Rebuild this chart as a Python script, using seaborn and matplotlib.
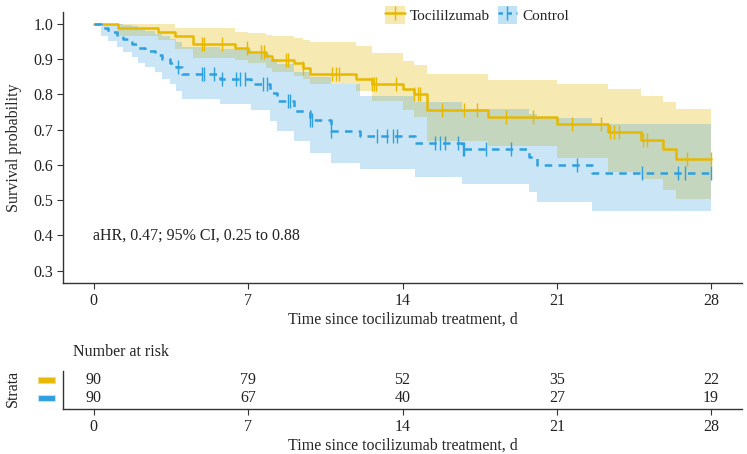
import numpy as np
import pandas as pd
import matplotlib
matplotlib.use("Agg")
import matplotlib.pyplot as plt
import seaborn as sns
from matplotlib.patches import Patch, Rectangle
from matplotlib.lines import Line2D

# ---------------- data ----------------
groups = ["Tocilizumab", "Control"]
legend_labels = ["Tocililzumab", "Control"]
colors = ["#E7B800", "#2E9FDF"]

toci_time = [0, 1.1, 2.9, 3.7, 4.5, 6.4, 7.0, 7.8, 8.1, 9.1, 9.5, 9.8, 11.9, 12.6,
             14.0, 14.5, 15.1, 17.9, 21.0, 23.3, 24.8, 25.8, 26.4]
toci_surv = [1.0, 0.989, 0.976, 0.965, 0.942, 0.931, 0.921, 0.908, 0.897, 0.888, 0.876,
             0.858, 0.845, 0.831, 0.815, 0.80, 0.755, 0.736, 0.715, 0.694, 0.670, 0.644, 0.618]
toci_lower = [1.0, 0.967, 0.955, 0.93, 0.903, 0.898, 0.889, 0.875, 0.865, 0.851, 0.845,
              0.83, 0.809, 0.78, 0.757, 0.735, 0.668, 0.655, 0.62, 0.58, 0.56, 0.53, 0.503]
toci_upper = [1.0, 1.0, 1.0, 0.988, 0.988, 0.976, 0.974, 0.969, 0.965, 0.96, 0.955,
              0.948, 0.936, 0.918, 0.894, 0.884, 0.859, 0.842, 0.83, 0.814, 0.795, 0.779, 0.76]
toci_censor = [4.9, 5.0, 5.8, 6.95, 7.6, 7.7, 8.7, 8.8, 9.5, 10.8, 11.0, 11.1, 12.6, 12.7,
               12.8, 13.7, 14.5, 14.7, 14.8, 15.8, 16.8, 17.4, 18.7, 19.9, 21.7, 23.0,
               23.4, 23.6, 23.8, 24.9, 25.1, 26.9, 28.0]

ctrl_time = [0, 0.32, 0.65, 1.03, 1.33, 1.71, 2.0, 2.3, 2.77, 3.1, 3.45, 3.72, 3.98, 5.7,
             7.15, 8.0, 8.3, 9.1, 9.8, 10.75, 12.07, 14.56, 16.7, 19.75, 20.1, 22.6]
ctrl_surv = [1.0, 0.988, 0.978, 0.967, 0.956, 0.944, 0.933, 0.922, 0.911, 0.9, 0.889, 0.878,
             0.858, 0.843, 0.83, 0.805, 0.78, 0.752, 0.727, 0.697, 0.682, 0.663, 0.645,
             0.623, 0.601, 0.576]
ctrl_lower = [1.0, 0.965, 0.952, 0.935, 0.92, 0.905, 0.89, 0.877, 0.865, 0.845, 0.83, 0.81,
              0.787, 0.773, 0.757, 0.724, 0.696, 0.668, 0.635, 0.605, 0.588, 0.566, 0.545,
              0.522, 0.496, 0.470]
ctrl_upper = [1.0, 1.0, 1.0, 1.0, 0.998, 0.993, 0.985, 0.98, 0.972, 0.965, 0.958, 0.95,
              0.935, 0.928, 0.915, 0.9, 0.885, 0.865, 0.85, 0.83, 0.795, 0.778, 0.76,
              0.745, 0.734, 0.715]
ctrl_censor = [3.83, 4.9, 5.0, 5.44, 5.79, 6.47, 6.65, 6.85, 7.68, 7.84, 8.82, 8.9, 9.8,
               9.88, 10.75, 12.83, 13.28, 13.58, 13.73, 15.47, 15.7, 15.93, 16.5, 16.75,
               16.8, 17.8, 18.9, 21.9, 24.85, 26.5, 26.8, 28.0]

end_time = 28.0
risk_times = [0, 7, 14, 21, 28]
risk_toci = [90, 79, 52, 35, 22]
risk_ctrl = [90, 67, 40, 27, 19]
x_ticks = [0, 7, 14, 21, 28]
y_ticks = [0.3, 0.4, 0.5, 0.6, 0.7, 0.8, 0.9, 1.0]
annotation = "aHR, 0.47; 95% CI, 0.25 to 0.88"
xlabel = "Time since tocilizumab treatment, d"
ylabel = "Survival probability"

# ---------------- build tables ----------------
series = {
    "Tocilizumab": (toci_time, toci_surv, toci_lower, toci_upper, toci_censor),
    "Control": (ctrl_time, ctrl_surv, ctrl_lower, ctrl_upper, ctrl_censor),
}
rows = []
for g, (t, s, lo, up, _) in series.items():
    tt = list(t) + [end_time]
    ss = list(s) + [s[-1]]
    ll = list(lo) + [lo[-1]]
    uu = list(up) + [up[-1]]
    for a, b, c, d in zip(tt, ss, ll, uu):
        rows.append({"group": g, "time": a, "surv": b, "lower": c, "upper": d})
df = pd.DataFrame(rows)

# ---------------- figure ----------------
sns.set_theme(style="white")
plt.rcParams["font.family"] = ["Liberation Serif", "DejaVu Serif"]
plt.rcParams["text.color"] = "#222222"
W, H = 747, 454
fig = plt.figure(figsize=(W / 100, H / 100), dpi=100)
fig.patch.set_facecolor("white")

def fx(px):
    return px / W

def fy(py):
    return 1 - py / H

ax = fig.add_axes([fx(63), fy(283), fx(742) - fx(63), fy(11.6) - fy(283)])
ax.set_facecolor("white")

palette = dict(zip(groups, colors))
band_alpha = {"Tocilizumab": 0.3, "Control": 0.25}
for g in groups:
    sub = df[df.group == g]
    ax.fill_between(sub.time, sub.lower, sub.upper, step="post",
                    color=palette[g], alpha=band_alpha[g], lw=0)

sns.lineplot(data=df, x="time", y="surv", hue="group", style="group",
             hue_order=groups, style_order=groups, palette=palette,
             dashes={"Tocilizumab": "", "Control": (3.0, 2.5)},
             drawstyle="steps-post", lw=1.8, estimator=None, sort=False,
             legend=False, ax=ax)

for g, (t, s, lo, up, cens) in series.items():
    t_arr = np.asarray(t)
    s_arr = np.asarray(s)
    idx = np.searchsorted(t_arr, np.asarray(cens), side="right") - 1
    ax.plot(cens, s_arr[idx], linestyle="none", marker="|", markersize=10,
            markeredgewidth=1.0, color=palette[g])

ax.set_xlim(-1.4, 29.4)
ax.set_ylim(0.265, 1.035)
ax.set_xticks(x_ticks)
ax.set_yticks(y_ticks)
ax.set_yticklabels([f"{v:.1f}" for v in y_ticks])
ax.tick_params(axis="both", which="both", direction="out", length=4, width=0.8,
               color="#333333", labelsize=11.5, labelcolor="#222222", pad=3,
               left=True, bottom=True)
for sp in ["top", "right"]:
    ax.spines[sp].set_visible(False)
for sp in ["left", "bottom"]:
    ax.spines[sp].set_color("#333333")
    ax.spines[sp].set_linewidth(1.0)
ax.set_xlabel(xlabel, fontsize=11.5, labelpad=2)
ax.set_ylabel(ylabel, fontsize=11.5, labelpad=8)
ax.text(-0.05, 0.40, annotation, fontsize=11.5, ha="left", va="center")

# legend
handles = []
for g, c in zip(groups, colors):
    p = Patch(facecolor=c, alpha=0.3, edgecolor="none")
    ln = Line2D([0], [0], color=c, lw=1.8, marker="|", markersize=10,
                markeredgewidth=1.0,
                linestyle="-" if g == "Tocilizumab" else (0, (1.8, 1.8)))
    handles.append((p, ln))
fig.legend(handles, legend_labels, loc="center", bbox_to_anchor=(fx(477), fy(15)),
           ncol=2, frameon=False, fontsize=11, handlelength=1.3, handleheight=1.4,
           columnspacing=0.5, handletextpad=0.3)

# risk table
tab = fig.add_axes([fx(63), fy(409), fx(742) - fx(63), fy(371) - fy(409)])
tab.set_facecolor("white")
tab.set_xlim(-1.4, 29.4)
tab.set_ylim(-0.61, 1.5)
for t, a, b in zip(risk_times, risk_toci, risk_ctrl):
    tab.text(t, 1, str(a), ha="center", va="center", fontsize=11.5)
    tab.text(t, 0, str(b), ha="center", va="center", fontsize=11.5)
tab.set_xticks(x_ticks)
tab.set_yticks([])
tab.tick_params(axis="x", direction="out", length=4, width=0.8, color="#333333",
                labelsize=11.5, labelcolor="#222222", pad=3, bottom=True)
for sp in ["top", "right"]:
    tab.spines[sp].set_visible(False)
for sp in ["left", "bottom"]:
    tab.spines[sp].set_color("#333333")
    tab.spines[sp].set_linewidth(1.0)
tab.set_xlabel(xlabel, fontsize=11.5, labelpad=2)

fig.text(fx(73), fy(352), "Number at risk", fontsize=11.5, ha="left", va="center")
fig.text(fx(13), fy(388), "Strata", fontsize=11.5, rotation=90, ha="center", va="center")
for py, c in zip([380, 398], colors):
    fig.add_artist(Rectangle((fx(38), fy(py + 3)), fx(17), 6 / H, transform=fig.transFigure,
                             facecolor=c, edgecolor="#BFE0F5" if c == colors[1] else "#F3DA80",
                             lw=0.8))

fig.savefig("out.png", dpi=100, facecolor="white")
